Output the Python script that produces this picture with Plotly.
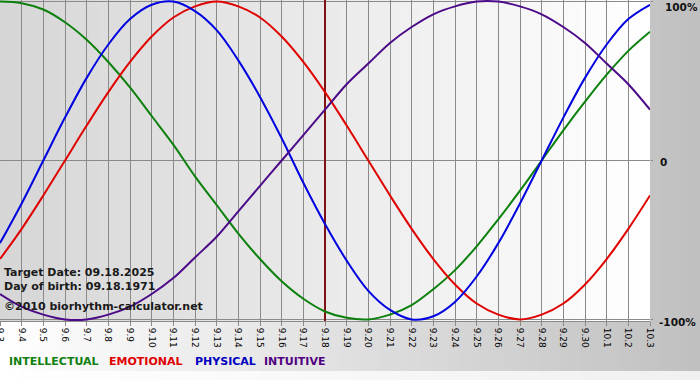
import plotly.graph_objects as go

# ---------------- data ----------------
dates = ["9.3", "9.4", "9.5", "9.6", "9.7", "9.8", "9.9", "9.10", "9.11", "9.12",
         "9.13", "9.14", "9.15", "9.16", "9.17", "9.18", "9.19", "9.20", "9.21", "9.22",
         "9.23", "9.24", "9.25", "9.26", "9.27", "9.28", "9.29", "9.30", "10.1", "10.2", "10.3"]

intellectual = [1.00, 0.99, 0.95, 0.87, 0.76, 0.62, 0.46, 0.28, 0.10, -0.10,
                -0.28, -0.46, -0.62, -0.76, -0.87, -0.95, -0.99, -1.00, -0.97, -0.91,
                -0.81, -0.69, -0.54, -0.37, -0.19, 0.00, 0.19, 0.37, 0.54, 0.69, 0.81]

emotional = [-0.62, -0.43, -0.22, 0.00, 0.22, 0.43, 0.62, 0.78, 0.90, 0.97,
             1.00, 0.97, 0.90, 0.78, 0.62, 0.43, 0.22, 0.00, -0.22, -0.43,
             -0.62, -0.78, -0.90, -0.97, -1.00, -0.97, -0.90, -0.78, -0.62, -0.43, -0.22]

physical = [-0.52, -0.27, 0.00, 0.27, 0.52, 0.73, 0.89, 0.98, 1.00, 0.94,
            0.82, 0.63, 0.40, 0.14, -0.14, -0.40, -0.63, -0.82, -0.94, -1.00,
            -0.98, -0.89, -0.73, -0.52, -0.27, 0.00, 0.27, 0.52, 0.73, 0.89, 0.98]

intuitive = [-0.84, -0.92, -0.97, -1.00, -1.00, -0.97, -0.92, -0.84, -0.74, -0.61,
             -0.48, -0.32, -0.16, 0.00, 0.16, 0.32, 0.48, 0.61, 0.74, 0.84,
             0.92, 0.97, 1.00, 1.00, 0.97, 0.92, 0.84, 0.74, 0.61, 0.48, 0.32]

series_names = ["INTELLECTUAL", "EMOTIONAL", "PHYSICAL", "INTUITIVE"]
y_tick_vals = [-1, 0, 1]
y_tick_text = ["-100%", "0", "100%"]
y_range = [-1.01, 1.01]
target_date = "9.18"
info_lines = ["Target Date: 09.18.2025", "Day of birth: 09.18.1971"]
copyright_text = "©2010 biorhythm-calculator.net"

# ---------------- styling ----------------
W, H = 700, 380
PL, PR, PT, PB = 0, 50, 0, 59
PW, PH = W - PL - PR, H - PT - PB
FONT = "DejaVu Sans"
line_colors = ["#0c800c", "#e00000", "#0000e0", "#4c0a88"]
legend_colors = ["#108010", "#e00000", "#0000c0", "#500080"]


def px_x(px):
    return (px - PL) / PW


def px_y(py):
    return 1 - (py - PT) / PH


def mix(c1, c2, t):
    return "rgb(%d,%d,%d)" % tuple(round(a + (b - a) * t) for a, b in zip(c1, c2))


fig = go.Figure()

# target date marker (drawn first so the curves lie on top)
fig.add_trace(go.Scatter(x=[target_date, target_date], y=y_range, mode="lines",
                         line=dict(color="#801414", width=2), hoverinfo="skip", showlegend=False))

for name, vals, col in zip(series_names, [intellectual, emotional, physical, intuitive], line_colors):
    fig.add_trace(go.Scatter(x=dates, y=vals, mode="lines", name=name,
                             line=dict(color=col, width=2, shape="spline", smoothing=1.0),
                             hoverinfo="skip", showlegend=False))

shapes = []
# outer background gradient (white -> grey, left to right)
n_out = 70
for i in range(n_out):
    x0 = i * W / n_out
    x1 = (i + 1) * W / n_out + 0.8
    t = (i + 0.5) / n_out
    shapes.append(dict(type="rect", xref="paper", yref="paper", layer="below",
                       x0=px_x(x0), x1=px_x(x1), y0=px_y(371), y1=px_y(-2),
                       fillcolor=mix((255, 255, 255), (192, 192, 192), t), line=dict(width=0)))
    shapes.append(dict(type="rect", xref="paper", yref="paper", layer="below",
                       x0=px_x(x0), x1=px_x(x1), y0=px_y(382), y1=px_y(371),
                       fillcolor=mix((255, 255, 255), (240, 240, 240), t), line=dict(width=0)))
# plot area gradient (grey -> white)
n_in = 65
for i in range(n_in):
    x0 = i * PW / n_in
    x1 = (i + 1) * PW / n_in + 0.8
    t = (i + 0.5) / n_in
    shapes.append(dict(type="rect", xref="paper", yref="paper", layer="below",
                       x0=px_x(x0), x1=min(px_x(x1), 1), y0=0, y1=1,
                       fillcolor=mix((214, 214, 214), (255, 255, 255), t), line=dict(width=0)))

annotations = []
for i, txt in enumerate(info_lines):
    annotations.append(dict(text=txt, x=px_x(2), y=px_y(272.5 + 14 * i), xref="paper", yref="paper",
                            xanchor="left", yanchor="middle", showarrow=False,
                            font=dict(family=FONT, size=11, color="#1a1a1a", weight="bold")))
annotations.append(dict(text=copyright_text, x=px_x(2), y=px_y(306), xref="paper", yref="paper",
                        xanchor="left", yanchor="middle", showarrow=False,
                        font=dict(family=FONT, size=11, color="#1a1a1a", weight="bold")))
legend_x = [7, 107, 193, 262]
for name, col, lx in zip(series_names, legend_colors, legend_x):
    annotations.append(dict(text=name, x=px_x(lx), y=px_y(361.5), xref="paper", yref="paper",
                            xanchor="left", yanchor="middle", showarrow=False,
                            font=dict(family=FONT, size=11, color=col, weight="bold")))
# right-hand value labels
label_dx = {"-100%": 657, "0": 658, "100%": 663}
label_shift = {"-100%": -2.5, "0": -1.5, "100%": -5}
for v, txt in zip(y_tick_vals, y_tick_text):
    annotations.append(dict(text=txt, x=px_x(label_dx[txt]), y=v, xref="paper", yref="y",
                            yshift=label_shift[txt],
                            xanchor="left", yanchor="middle", showarrow=False,
                            font=dict(family=FONT, size=10.5, color="#111111", weight="bold")))

fig.update_layout(
    width=W, height=H,
    margin=dict(l=PL, r=PR, t=PT, b=PB, pad=0),
    paper_bgcolor="white",
    plot_bgcolor="rgba(0,0,0,0)",
    shapes=shapes,
    annotations=annotations,
    showlegend=False,
    xaxis=dict(type="category", categoryorder="array", categoryarray=dates,
               range=[0, len(dates) - 1], automargin=False,
               showgrid=True, gridcolor="#8a8a8a", gridwidth=1,
               tickangle=90, tickfont=dict(family=FONT, size=9, color="#000000"),
               ticks="outside", ticklen=4, tickcolor="#8a8a8a",
               showline=True, linecolor="#8a8a8a", mirror=True, zeroline=False,
               fixedrange=True),
    yaxis=dict(side="right", range=y_range, automargin=False,
               tickvals=y_tick_vals, showticklabels=False,
               showgrid=True, gridcolor="#8a8a8a", gridwidth=1, zeroline=False,
               ticks="outside", ticklen=2, tickcolor="#8a8a8a",
               showline=False, fixedrange=True),
)

fig.write_html("out.html", config={"displayModeBar": False},
               post_script="document.body.style.margin='0';")
